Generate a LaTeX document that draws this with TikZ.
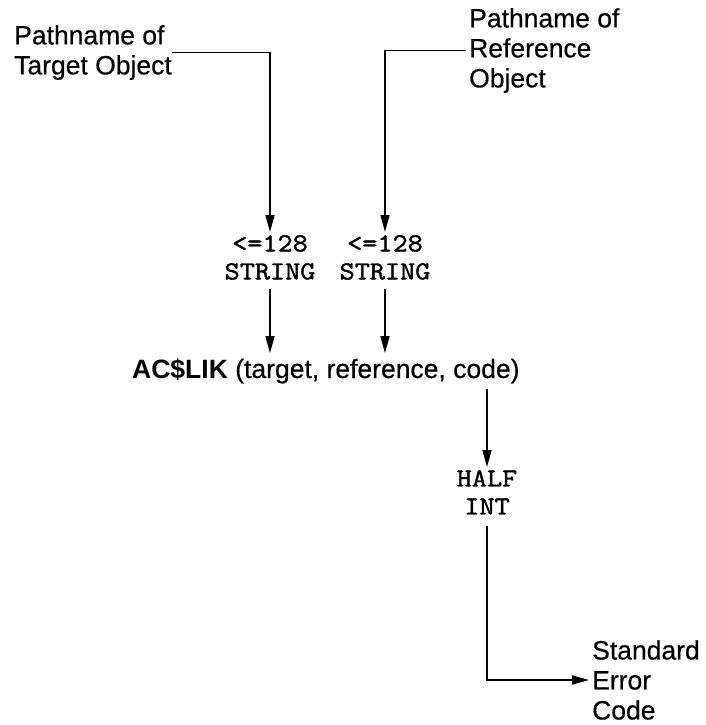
\documentclass[tikz,border=0pt]{standalone}
\usepackage{fontspec}
\setmainfont{Liberation Sans}[UprightFeatures={FakeBold=0.5}]
\newfontfamily\twfont[FakeStretch=1.13,FakeBold=1.5]{Latin Modern Mono}
\usetikzlibrary{arrows.meta}
\tikzset{
  lbl/.style={font=\fontsize{26.5}{30}\selectfont, align=left, inner sep=0pt},
  tw/.style={font=\twfont\fontsize{26}{28}\selectfont, align=center, inner xsep=0pt, inner ysep=3pt},
  call/.style={font=\fontsize{26.5}{30}\selectfont, inner xsep=0pt, inner ysep=5pt},
  conn/.style={line width=1.4pt},
  arr/.style={conn, -{Triangle[length=17pt,width=9pt]}}
}
\begin{document}
\begin{tikzpicture}[x=1pt,y=-1pt]
\useasboundingbox (0,0) rectangle (706,725);
\node[lbl, anchor=north west] (tgt) at (14,25) {Pathname of\\Target Object};
\node[lbl, anchor=north west, inner xsep=3pt] (ref) at (466,8) {Pathname of\\Reference\\Object};
\node[tw, anchor=north] (s1) at (270,232) {<=128\\STRING};
\node[tw, anchor=north] (s2) at (385,232) {<=128\\STRING};
\node[call, anchor=base west] (call) at (132,378) {\textbf{AC\$LIK} (target, reference, code)};
\node[tw, anchor=north] (half) at (487,467) {HALF\\INT};
\node[lbl, anchor=west, inner xsep=3pt] (err) at (589,680) {Standard\\Error\\Code};
\draw[arr] (tgt.east) -| (s1.north);
\draw[arr] (ref.west) -| (s2.north);
\draw[arr, shorten <=6pt] (s1.south) -- (s1.south |- call.north);
\draw[arr, shorten <=6pt] (s2.south) -- (s2.south |- call.north);
\draw[arr] (call.south -| half.north) -- (half.north);
\draw[arr, shorten <=8pt] (half.south) |- (err.west);
\end{tikzpicture}
\end{document}
